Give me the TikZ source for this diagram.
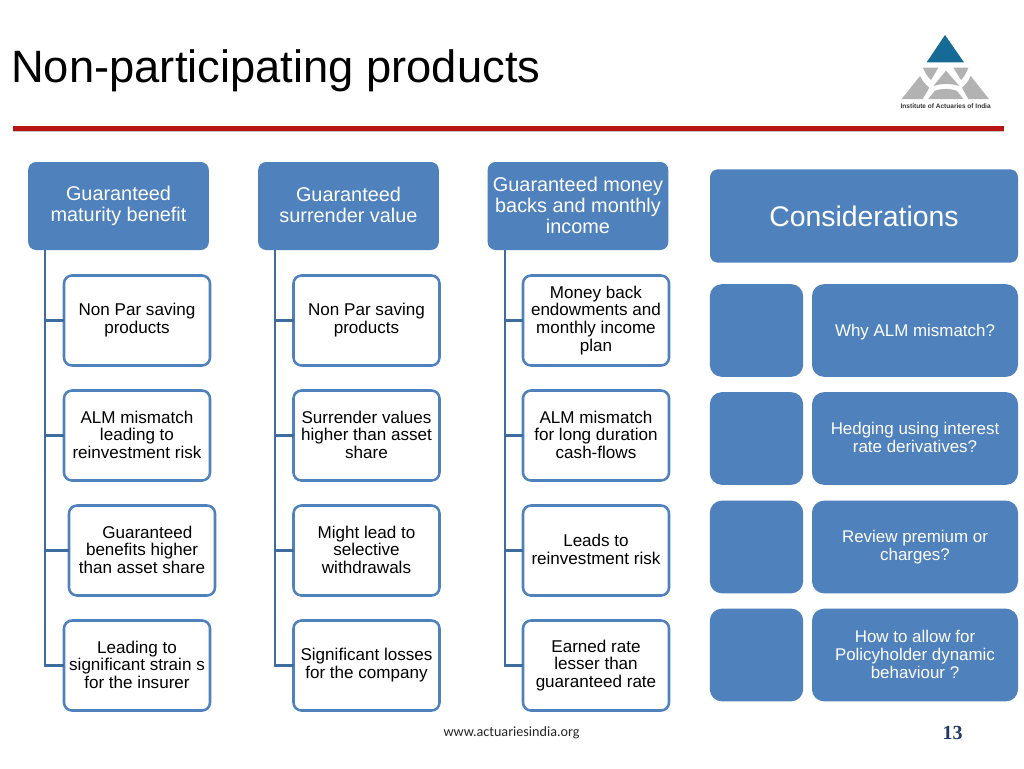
\documentclass[tikz,border=0pt]{standalone}
\usepackage{fontspec}
\setmainfont{Liberation Sans}
\newfontfamily\footfont{Carlito}
\newfontfamily\numfont{Liberation Serif}
\definecolor{pblue}{HTML}{4F81BD}
\definecolor{trunkblue}{HTML}{3F6C9F}
\definecolor{rulered}{HTML}{B81414}
\definecolor{logoblue}{HTML}{156A96}
\definecolor{logogray}{HTML}{B2B2B2}
\definecolor{numblue}{HTML}{1F3864}
\newcommand{\balH}{.95em}
\newcommand{\balD}{.09em}
\newcommand{\balancer}{\rule[-\balD]{0pt}{\dimexpr\balH+\balD\relax}}
\newcommand{\balLess}{\def\balH{.86em}\def\balD{.15em}}
\tikzset{
  x=.75pt,y=-.75pt,
  base/.style={rounded corners=6pt,align=center,inner sep=0pt,outer sep=0pt,
    execute at begin node=\balancer,execute at end node=\balancer},
  head/.style={base,fill=pblue,text=white,minimum width=135.5pt,minimum height=66pt,
    font=\fontsize{14.9}{15.7}\selectfont},
  kid/.style={base,draw=pblue,line width=1.9pt,fill=white,text=black,minimum width=109.5pt,minimum height=67.5pt,
    font=\fontsize{12.8}{13.4}\selectfont},
  sq/.style={base,rounded corners=9pt,fill=pblue,minimum width=70pt,minimum height=69.5pt},
  side/.style={base,rounded corners=9pt,fill=pblue,text=white,minimum width=154.5pt,minimum height=69.5pt,
    font=\fontsize{12.7}{13.4}\selectfont},
  trunk/.style={draw=trunkblue,line width=2.2pt},
}
\begin{document}
\begin{tikzpicture}
\useasboundingbox (0,0) rectangle (1024,768);
\fill[white] (0,0) rectangle (1024,768);
% title
\node[anchor=base west,inner sep=0pt,font=\fontsize{34}{38}\selectfont,text=black] (title) at (11,82) {Non-participating products};
\coordinate (ruleL) at (13,128.5);
\coordinate (ruleR) at (1004,128.5);
\draw[black!22,line width=3.5pt] ([yshift=-1pt]ruleL) -- ([yshift=-1pt]ruleR);
\draw[rulered,line width=3.4pt] (ruleL) -- (ruleR);
% logo
\begin{scope}[shift={(880,20)},x=.25pt,y=-.25pt]
\fill[logoblue] (195,45) -- (140,127) -- (252,127) -- cycle;
\fill[logogray] (128,143) -- (175,143) -- (153,180) .. controls (140,168) and (135,155) .. cycle;
\fill[logogray] (220,143) -- (265,143) .. controls (260,155) and (255,168) .. (243,180) -- cycle;
\fill[logogray] (198,152) -- (238,198) .. controls (212,190) and (185,190) .. (160,198) -- cycle;
\fill[logogray] (120,168) .. controls (128,185) and (138,195) .. (148,203) -- (128,237) -- (65,237) -- cycle;
\fill[logogray] (272,168) -- (327,237) -- (265,237) -- (246,203) .. controls (256,195) and (265,185) .. cycle;
\fill[logogray] (165,212) .. controls (185,205) and (210,205) .. (230,212) -- (250,237) -- (145,237) -- cycle;
\node[font=\bfseries\fontsize{4.9}{6}\selectfont,text=black!80,inner sep=0pt] (logotext) at (197,258) {Institute of Actuaries of India};
\end{scope}
% headers
\node[head] (h1) at (118.5,206) {Guaranteed\\maturity benefit};
\node[head] (h2) at (348.5,206) {Guaranteed\\surrender value};
\node[head] (h3) at (578,206) {Guaranteed money\\backs and monthly\\income};
\node[head,minimum width=231pt,minimum height=70pt,font=\fontsize{21.3}{24}\selectfont\balLess] (cons) at (864,216) {Considerations};
% children
\node[kid] (a1) at (137,320.5) {Non Par saving\\products};
\node[kid] (a2) at (137,435.5) {ALM mismatch\\leading to\\reinvestment risk};
\node[kid] (a3) at (142,550.5) {\hspace*{8pt}Guaranteed\\benefits higher\\than asset share};
\node[kid] (a4) at (137,665.5) {Leading to\\significant strain s\\for the insurer};
\node[kid] (b1) at (366.5,320.5) {Non Par saving\\products};
\node[kid] (b2) at (366.5,435.5) {Surrender values\\higher than asset\\share};
\node[kid] (b3) at (366.5,550.5) {Might lead to\\selective\\withdrawals};
\node[kid] (b4) at (366.5,665.5) {Significant losses\\for the company};
\node[kid] (c1) at (596,320.5) {Money back\\endowments and\\monthly income\\plan};
\node[kid] (c2) at (596,435.5) {ALM mismatch\\for long duration\\cash-flows};
\node[kid] (c3) at (596,550.5) {Leads to\\reinvestment risk};
\node[kid] (c4) at (596,665.5) {Earned rate\\lesser than\\guaranteed rate};
% connectors
\coordinate (ja) at (45,250);
\coordinate (jb) at (275,250);
\coordinate (jc) at (505,250);
\foreach \j/\k in {ja/a,jb/b,jc/c}{
  \draw[trunk,rounded corners=0pt] (\j) |- (\k4.west);
  \foreach \i in {1,2,3}{\draw[trunk] (\j |- \k\i.west) -- (\k\i.west);}
}
% right column
\node[sq] (s1) at (756.5,330.5) {};
\node[sq] (s2) at (756.5,438.5) {};
\node[sq] (s3) at (756.5,547) {};
\node[sq] (s4) at (756.5,655) {};
\node[side,font=\fontsize{12.7}{13.4}\selectfont\balLess] (t1) at (915,330.5) {Why ALM mismatch?};
\node[side] (t2) at (915,438.5) {Hedging using interest\\rate derivatives?};
\node[side] (t3) at (915,547) {Review premium or\\charges?};
\node[side] (t4) at (915,655) {How to allow for\\Policyholder dynamic\\behaviour ?};
% footer
\node[font=\footfont\fontsize{10.6}{12}\selectfont,text=black!85,inner sep=0pt] (foot) at (511.5,733) {www.actuariesindia.org};
\node[font=\numfont\bfseries\fontsize{15}{18}\selectfont,text=numblue,inner sep=0pt] (num) at (952.5,733) {13};
\end{tikzpicture}
\end{document}
